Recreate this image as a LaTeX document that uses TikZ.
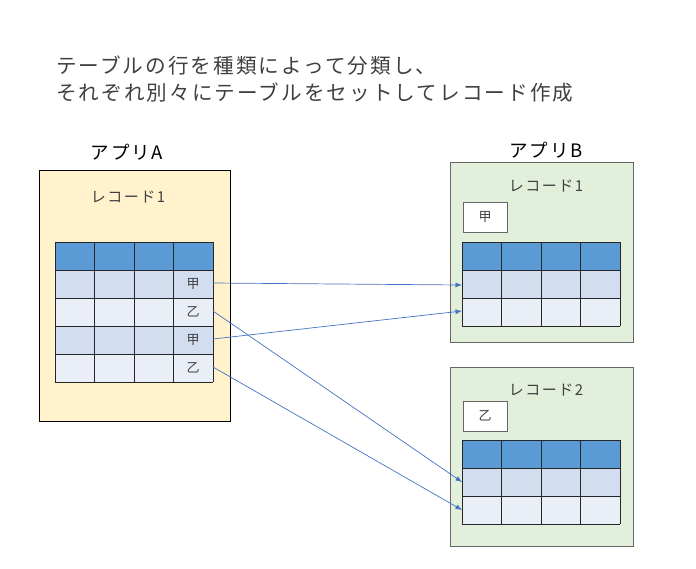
\documentclass[tikz,border=0pt]{standalone}
\usepackage{fontspec}
\setmainfont{Noto Sans CJK JP}[LetterSpace=10]
\usetikzlibrary{arrows.meta}
\definecolor{hdr}{HTML}{5B9BD5}
\definecolor{rowa}{HTML}{D2DEEF}
\definecolor{rowb}{HTML}{EAEFF7}
\definecolor{appA}{HTML}{FFF2CC}
\definecolor{appB}{HTML}{E2EFDA}
\definecolor{arr}{HTML}{4472C4}
\definecolor{txt}{HTML}{404040}
\tikzset{
  frameA/.style={draw=black, fill=appA, line width=0.8pt},
  frameB/.style={draw=black!60, fill=appB, line width=0.8pt},
  tag/.style={draw=black!60, fill=white, line width=0.8pt},
  gridline/.style={draw=black!85, line width=0.8pt},
  lbl/.style={inner sep=0pt, text=txt},
  conn/.style={draw=arr, line width=0.7pt, -{Latex[length=6.5pt,width=5pt]}},
}
% #1 left x, #2 top y, #3 number of body rows
\newcommand{\mytable}[3]{%
  \fill[hdr] (#1,#2) rectangle ++(158,28);
  \foreach \r in {1,...,#3}{%
    \pgfmathtruncatemacro{\odd}{mod(\r,2)}%
    \ifnum\odd=1 \fill[rowa] (#1,#2+28*\r) rectangle ++(158,28);
    \else \fill[rowb] (#1,#2+28*\r) rectangle ++(158,28);\fi
  }
  \foreach \r in {0,...,#3}{\draw[gridline] (#1,#2+28*\r) -- ++(158,0);}
  \draw[gridline] (#1,#2+28+28*#3) -- ++(158,0);
  \foreach \c in {0,1,2,3,4}{\draw[gridline] (#1+39.5*\c,#2) -- ++(0,28+28*#3);}
}
\begin{document}
\begin{tikzpicture}[x=1pt,y=-1pt]
\useasboundingbox (0,0) rectangle (696,568);
% title
\node[lbl, anchor=west, font=\fontsize{20.6}{24}\selectfont] (t1) at (56,66) {テーブルの行を種類によって分類し、};
\node[lbl, anchor=west, font=\fontsize{20.6}{24}\selectfont] (t2) at (56,93) {それぞれ別々にテーブルをセットしてレコード作成};
% App A
\node[lbl, text=black, font=\fontsize{18.5}{20}\selectfont] (appa) at (127,152) {アプリA};
\draw[frameA] (39,170) rectangle (230,421);
\node[lbl, font=\fontsize{15}{17}\selectfont] (reca) at (128,197) {レコード1};
\mytable{55}{242}{4}
\node[lbl, font=\fontsize{13}{14}\selectfont] (a1) at (193,284) {甲};
\node[lbl, font=\fontsize{13}{14}\selectfont] (a2) at (193,312) {乙};
\node[lbl, font=\fontsize{13}{14}\selectfont] (a3) at (193,340) {甲};
\node[lbl, font=\fontsize{13}{14}\selectfont] (a4) at (193,368) {乙};
\coordinate (s1) at (213,283);
\coordinate (s2) at (213,311);
\coordinate (s3) at (213,339);
\coordinate (s4) at (213,367);
% App B record 1
\node[lbl, text=black, font=\fontsize{18.5}{20}\selectfont] (appb) at (546,150) {アプリB};
\draw[frameB] (450,162) rectangle (633,342);
\node[lbl, font=\fontsize{15}{17}\selectfont] (recb1) at (546,186) {レコード1};
\draw[tag] (463,202) rectangle (507,232);
\node[lbl, font=\fontsize{13}{14}\selectfont] (k1) at (485,217) {甲};
\mytable{462}{242}{2}
\coordinate (e1) at (462,285);
\coordinate (e2) at (462,311);
% App B record 2
\draw[frameB] (450,367) rectangle (633,546);
\node[lbl, font=\fontsize{15}{17}\selectfont] (recb2) at (546,390) {レコード2};
\draw[tag] (463,401) rectangle (507,431);
\node[lbl, font=\fontsize{13}{14}\selectfont] (k2) at (485,416) {乙};
\mytable{462}{440}{2}
\coordinate (e3) at (462,482);
\coordinate (e4) at (462,510);
% connectors
\draw[conn] (s1) -- (e1);
\draw[conn] (s3) -- (e2);
\draw[conn] (s2) -- (e3);
\draw[conn] (s4) -- (e4);
\end{tikzpicture}
\end{document}
